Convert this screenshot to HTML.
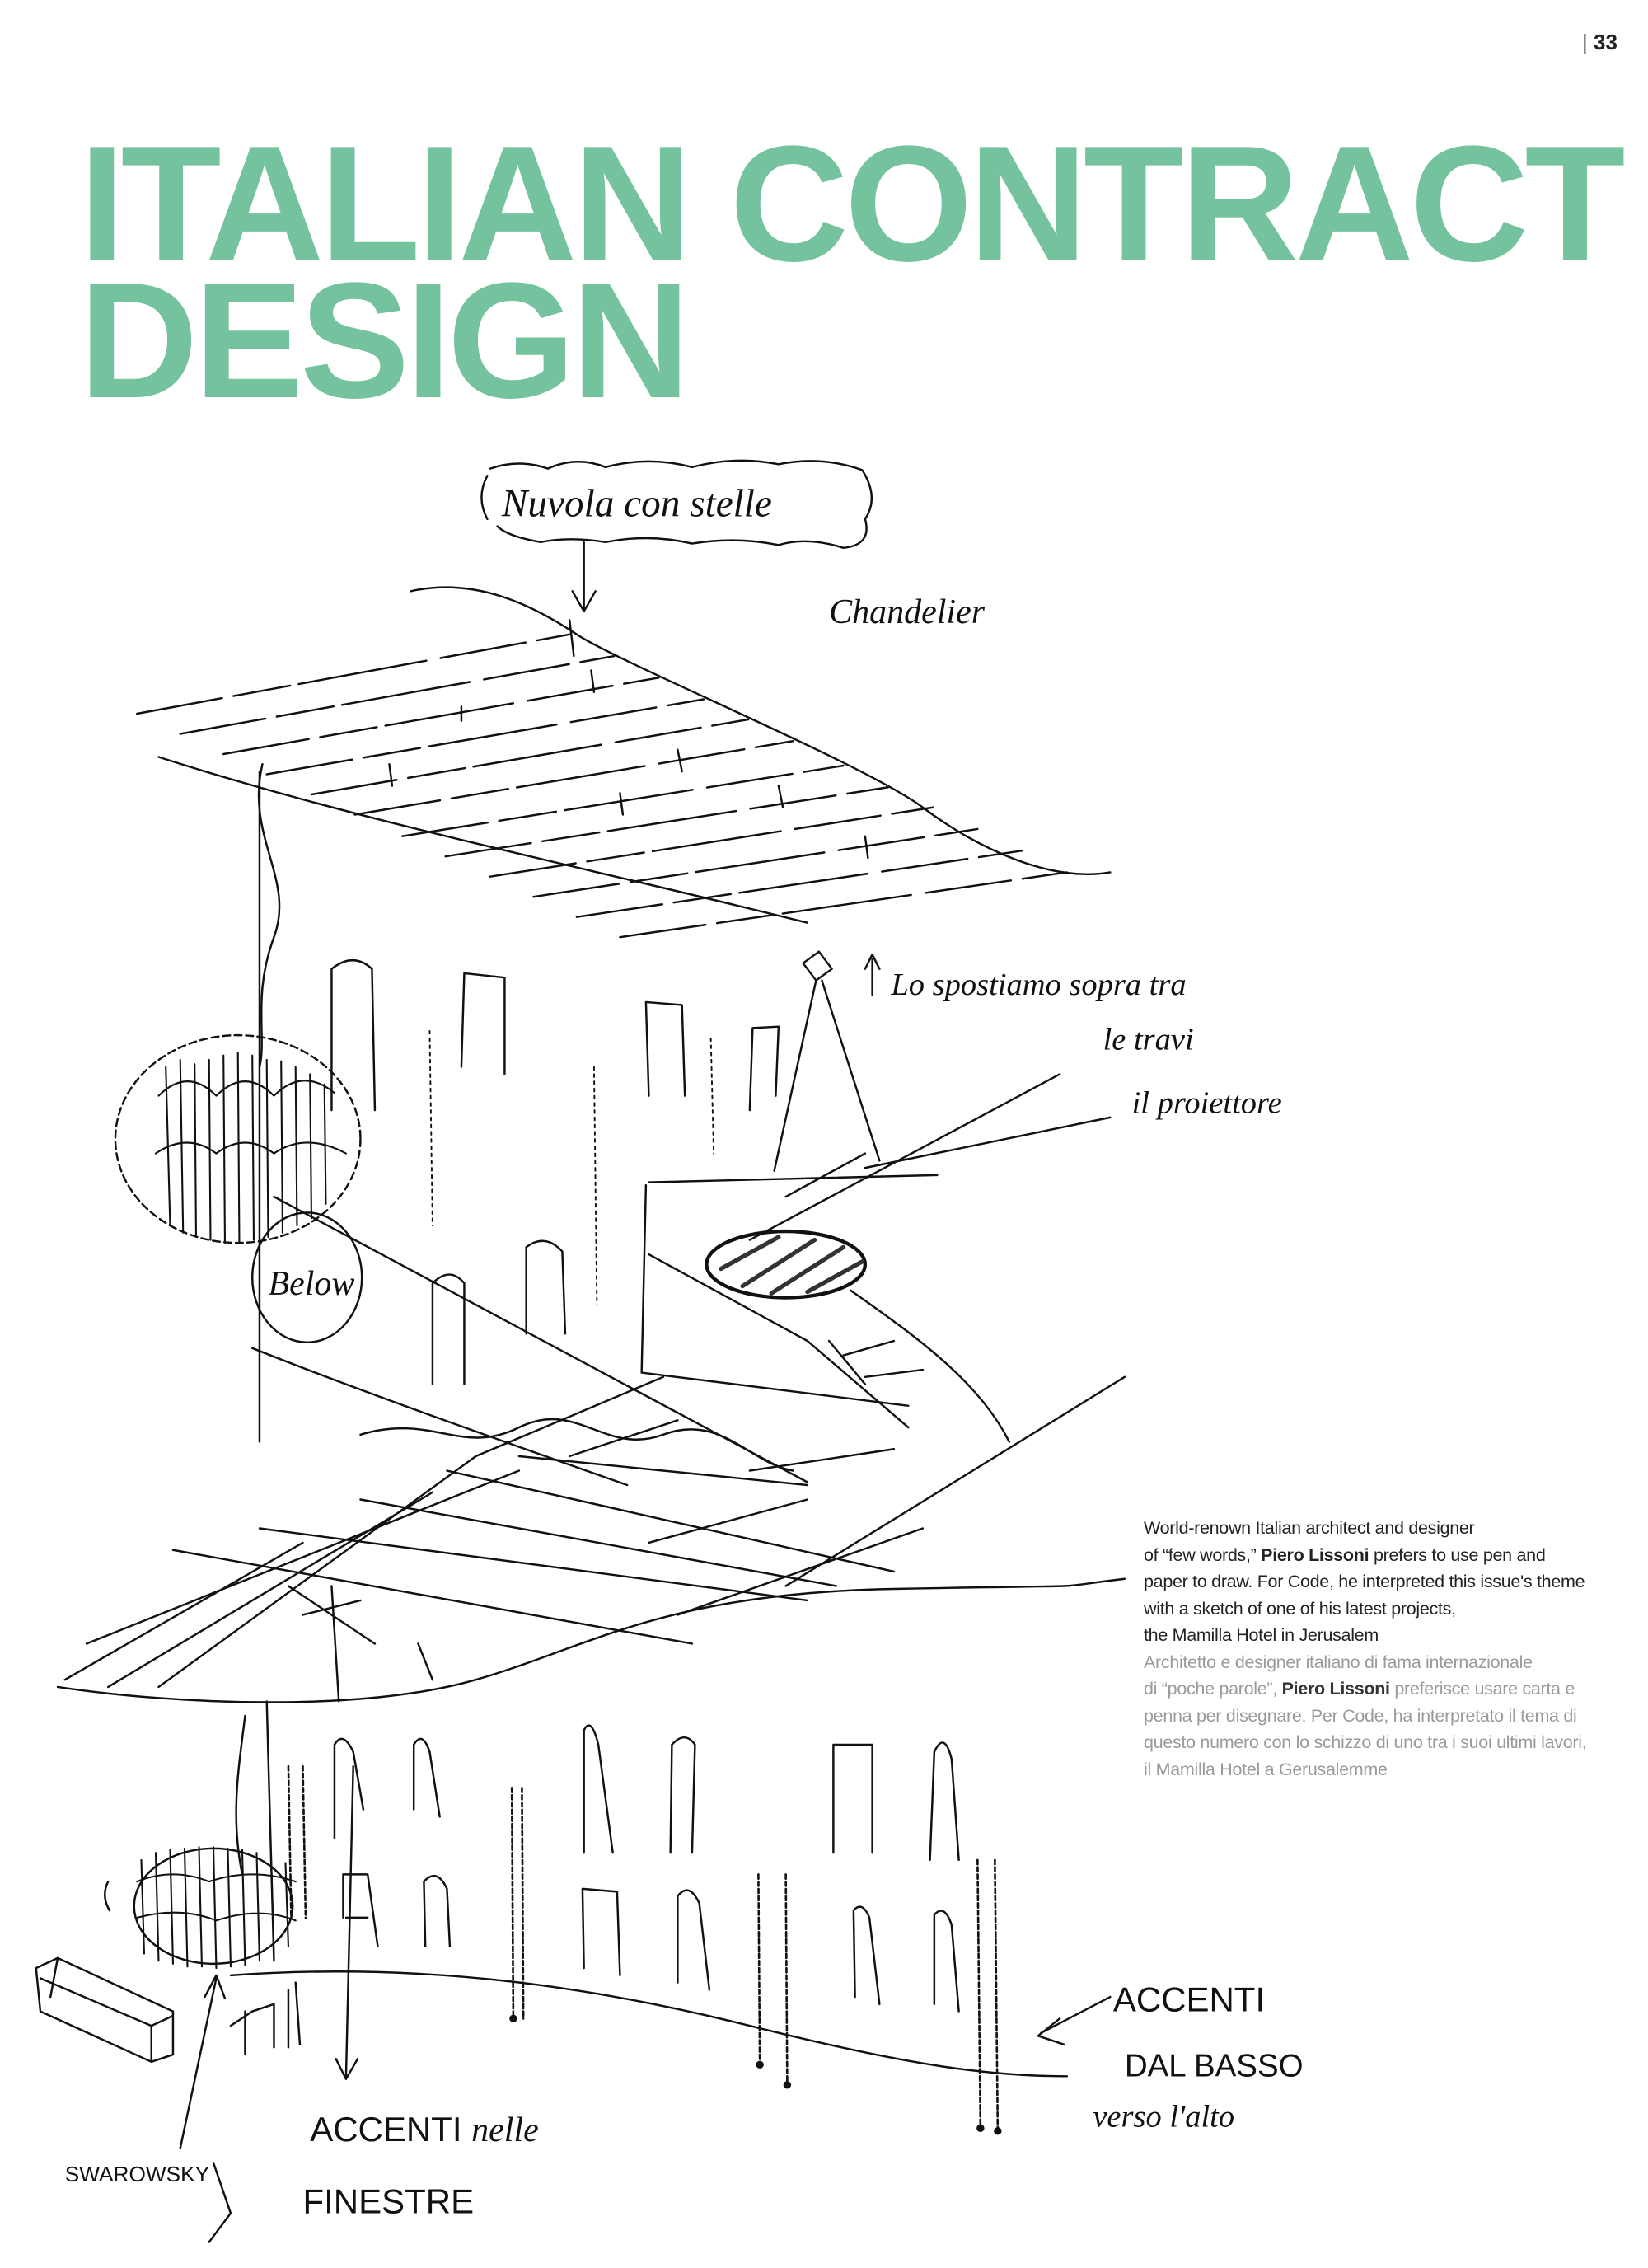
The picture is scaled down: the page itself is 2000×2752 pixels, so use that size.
<!DOCTYPE html>
<html><head><meta charset="utf-8"><style>
html,body{margin:0;padding:0;background:#fff}
body{width:2000px;height:2752px;position:relative;overflow:hidden;font-family:"Liberation Sans",sans-serif}
.t{position:absolute;left:96px;font-weight:bold;font-size:200px;line-height:166px;color:#74c29e;letter-spacing:-5px;white-space:nowrap}
.pn{position:absolute;left:1920px;top:36px;font-size:26px;font-weight:bold;color:#222;font-family:"Liberation Sans Narrow","Liberation Sans",sans-serif}
.body{position:absolute;left:1388px;top:1838px;font-size:21.5px;line-height:32.5px;color:#222;white-space:nowrap;letter-spacing:-0.3px}
.body .it{color:#9a9a9a}
svg{position:absolute;left:0;top:0}
</style></head><body>
<div class="pn"><span style="font-weight:normal;color:#555">|</span> 33</div>
<div class="t" style="top:165px">ITALIAN CONTRACT</div>
<div class="t" style="top:331px">DESIGN</div>

<div class="body">World-renown Italian architect and designer<br>
of “few words,” <b>Piero Lissoni</b> prefers to use pen and<br>
paper to draw. For Code, he interpreted this issue's theme<br>
with a sketch of one of his latest projects,<br>
the Mamilla Hotel in Jerusalem<br>
<span class="it">Architetto e designer italiano di fama internazionale<br>
di “poche parole”, <b style="color:#333">Piero Lissoni</b> preferisce usare carta e<br>
penna per disegnare. Per Code, ha interpretato il tema di<br>
questo numero con lo schizzo di uno tra i suoi ultimi lavori,<br>
il Mamilla Hotel a Gerusalemme</span></div>

<svg width="2000" height="2752" viewBox="0 0 1143 1573" preserveAspectRatio="none" fill="none" stroke="#111" stroke-width="1.4" stroke-linecap="round" stroke-linejoin="round">
<path d="M340,325 Q360,318 380,325 Q400,316 420,324 Q450,316 480,324 Q510,316 540,322 Q570,316 598,326 Q610,345 600,360 Q605,378 585,380 Q560,372 540,378 Q510,372 480,377 Q450,370 420,376 Q395,372 375,376 Q352,372 345,365"/>
<path d="M338,330 Q330,345 338,360"/>
<path d="M405,376 L405,422 M397,410 L405,424 L413,410"/>
<path d="M285,410 C330,400 370,420 400,440 S600,530 640,560 S730,612 770,605"/>
<g stroke-dasharray="60 8 40 6 90 10">
<path d="M95,495 L395,440"/><path d="M125,509 L426,455"/><path d="M155,523 L457,470"/>
<path d="M185,537 L488,485"/><path d="M216,551 L519,499"/><path d="M246,565 L550,514"/>
<path d="M279,580 L585,531"/><path d="M309,594 L616,546"/><path d="M340,608 L647,560"/>
<path d="M370,622 L678,575"/><path d="M400,636 L709,590"/><path d="M430,650 L740,605"/>
</g>
<path d="M110,525 C250,570 400,600 560,640"/>
<path d="M395,430 L398,455 M410,465 L412,480 M470,520 L473,535 M540,545 L543,560 M600,580 L602,595 M320,490 L320,500 M270,530 L272,545 M430,550 L432,565"/>
<path d="M182,530 C170,580 205,610 190,650 C175,690 185,720 180,740"/>
<path d="M180,535 L180,1000"/>
<ellipse cx="165" cy="790" rx="85" ry="72" stroke-dasharray="5 3"/>
<g stroke-width="1.2"><path d="M115,740 L118,850 M125,735 L127,855 M135,738 L136,858 M145,735 L146,860 M155,732 L156,862 M165,730 L166,862 M175,732 L176,860 M185,735 L186,858 M195,736 L196,855 M205,740 L206,850 M215,745 L216,845 M225,752 L226,835"/>
<path d="M110,760 Q130,740 150,760 Q170,740 190,760 Q210,740 232,758 M108,800 Q130,785 150,800 Q170,785 190,800 Q212,785 240,800"/></g>
<ellipse cx="213" cy="886" rx="38" ry="45"/>
<path d="M230,770 L230,672 Q245,660 258,672 L260,770"/>
<path d="M320,740 L322,675 L350,678 L350,745"/>
<path d="M450,760 L448,695 L473,697 L475,760"/>
<path d="M520,770 L522,713 L540,712 L538,760"/>
<path d="M365,925 L365,865 Q378,855 390,868 L392,925"/>
<path d="M300,960 L300,890 Q312,878 322,890 L322,960"/>
<g stroke-dasharray="2 3" stroke-width="1.1"><path d="M298,715 L300,850 M412,740 L414,905 M493,720 L495,800"/></g>
<path d="M190,830 L560,1028"/><path d="M175,935 C250,965 350,1000 435,1030"/>
<path d="M250,995 C300,980 320,1010 360,990 S420,1010 460,995 S520,1015 550,1020"/>
<path d="M557,668 L568,660 L577,672 L566,680 Z"/>
<path d="M566,680 L537,812 M570,680 L610,805"/>
<path d="M605,665 L605,690 M600,672 L605,662 L610,672"/>
<path d="M450,820 L650,815 M448,822 L445,952 L630,975"/>
<path d="M520,860 L735,745 M600,810 L770,775 M545,830 L600,800"/>
<ellipse cx="545" cy="877" rx="55" ry="23" stroke-width="2.5"/>
<g stroke-width="3" stroke="#333"><path d="M500,880 L540,858 M515,892 L565,860 M535,897 L585,865 M560,896 L598,875"/></g>
<path d="M450,870 L560,930 L630,990 M590,895 C640,930 680,960 700,1000 M575,930 L600,960 M585,940 L620,930 M600,955 L640,950"/>
<path d="M40,1170 C120,1182 250,1188 330,1165 S460,1105 620,1102 S720,1102 780,1095"/>
<path d="M45,1165 L210,1070 M75,1170 L300,1035 M110,1170 L330,1010 M60,1140 L360,1020"/>
<path d="M120,1075 L480,1140 M180,1060 L560,1110 M250,1040 L580,1100 M310,1020 L620,1090 M360,1010 L560,1030"/>
<path d="M330,1010 L460,955 M395,1010 L470,985 M450,1070 L560,1040 M545,1100 L780,955 M470,1120 L640,1060 M520,1020 L620,1005"/>
<path d="M200,1100 L260,1140 M210,1120 L250,1110 M230,1100 L235,1180 M290,1140 L300,1165"/>
<path d="M160,1370 C300,1360 420,1380 520,1405 S680,1440 740,1440"/>
<path d="M170,1190 C165,1230 160,1260 168,1300 M185,1180 L190,1360"/>
<path d="M232,1275 L232,1210 Q238,1200 245,1215 L252,1255"/>
<path d="M287,1255 L287,1210 Q293,1200 298,1215 L305,1260"/>
<path d="M405,1285 L405,1200 Q410,1190 415,1210 L425,1285"/>
<path d="M465,1285 L466,1210 Q475,1200 482,1210 L480,1285"/>
<path d="M578,1285 L578,1210 L605,1210 L605,1285"/>
<path d="M645,1290 L648,1215 Q655,1200 660,1220 L665,1290"/>
<path d="M238,1330 L238,1300 L255,1300 L262,1350 M240,1330 L255,1330"/>
<path d="M295,1350 L294,1305 Q303,1295 310,1310 L312,1350"/>
<path d="M405,1365 L404,1310 L428,1312 L430,1370"/>
<path d="M470,1375 L470,1315 Q478,1305 485,1320 L492,1380"/>
<path d="M593,1385 L592,1325 Q598,1318 603,1330 L610,1390"/>
<path d="M648,1390 L648,1328 Q655,1320 660,1335 L665,1395"/>
<g stroke-dasharray="3 2" stroke-width="1.5"><path d="M355,1240 L356,1400 M362,1240 L363,1400 M526,1300 L527,1430 M545,1300 L546,1445 M678,1290 L680,1475 M690,1290 L692,1478 M200,1225 L202,1330 M210,1225 L212,1330"/></g>
<circle cx="356" cy="1400" r="2" fill="#111"/><circle cx="527" cy="1432" r="2" fill="#111"/><circle cx="546" cy="1446" r="2" fill="#111"/><circle cx="680" cy="1476" r="2" fill="#111"/><circle cx="692" cy="1478" r="2" fill="#111"/>
<ellipse cx="148" cy="1322" rx="55" ry="40"/>
<g stroke-width="1.2"><path d="M98,1290 L100,1355 M108,1285 L110,1360 M118,1283 L120,1362 M128,1282 L130,1364 M138,1281 L140,1364 M148,1281 L150,1365 M158,1282 L160,1364 M168,1283 L170,1363 M178,1285 L180,1360 M188,1288 L190,1356 M198,1292 L200,1350 M95,1305 Q120,1295 145,1305 Q175,1295 205,1305 M95,1330 Q125,1322 150,1332 Q180,1322 205,1332"/></g>
<path d="M75,1305 Q70,1315 76,1325"/>
<path d="M25,1365 L40,1358 L120,1395 L120,1425 L105,1430 L28,1395 Z M40,1358 L35,1385 M28,1372 L105,1405 L105,1430 M105,1405 L120,1398"/>
<path d="M170,1395 L170,1425 M175,1395 L190,1390 L190,1420 M200,1380 L200,1420 M205,1375 L208,1418 M160,1405 L175,1395"/>
<path d="M125,1490 L150,1372 M142,1385 L150,1370 L156,1386"/>
<path d="M245,1225 L240,1440 M233,1428 L240,1442 L248,1428"/>
<path d="M770,1385 L722,1410 M735,1400 L720,1412 L738,1418"/>
<path d="M148,1500 L160,1535 L145,1555"/>
</svg>

<svg width="2000" height="2752" viewBox="0 0 1143 1573" preserveAspectRatio="none" style="font-family:'Liberation Serif',serif;font-style:italic" fill="#111">
<text x="348" y="358" font-size="27">Nuvola con stelle</text>
<text x="575" y="432" font-size="24">Chandelier</text>
<text x="618" y="690" font-size="22">Lo spostiamo sopra  tra</text>
<text x="765" y="728" font-size="22">le travi</text>
<text x="785" y="772" font-size="22">il proiettore</text>
<text x="186" y="898" font-size="24">Below</text>
<text x="45" y="1513" font-size="15" font-style="normal" style="font-family:'Liberation Sans Narrow','Liberation Sans',sans-serif">SWAROWSKY</text>
<text x="215" y="1485" font-size="24" font-style="normal" style="font-family:'Liberation Sans Narrow','Liberation Sans',sans-serif">ACCENTI <tspan font-style="italic" style="font-family:'Liberation Serif',serif">nelle</tspan></text>
<text x="210" y="1535" font-size="24" font-style="normal" style="font-family:'Liberation Sans Narrow','Liberation Sans',sans-serif">FINESTRE</text>
<text x="772" y="1395" font-size="24" font-style="normal" style="font-family:'Liberation Sans Narrow','Liberation Sans',sans-serif">ACCENTI</text>
<text x="780" y="1440" font-size="22" font-style="normal" style="font-family:'Liberation Sans Narrow','Liberation Sans',sans-serif">DAL BASSO</text>
<text x="758" y="1475" font-size="22">verso l'alto</text>
</svg>
</body></html>
